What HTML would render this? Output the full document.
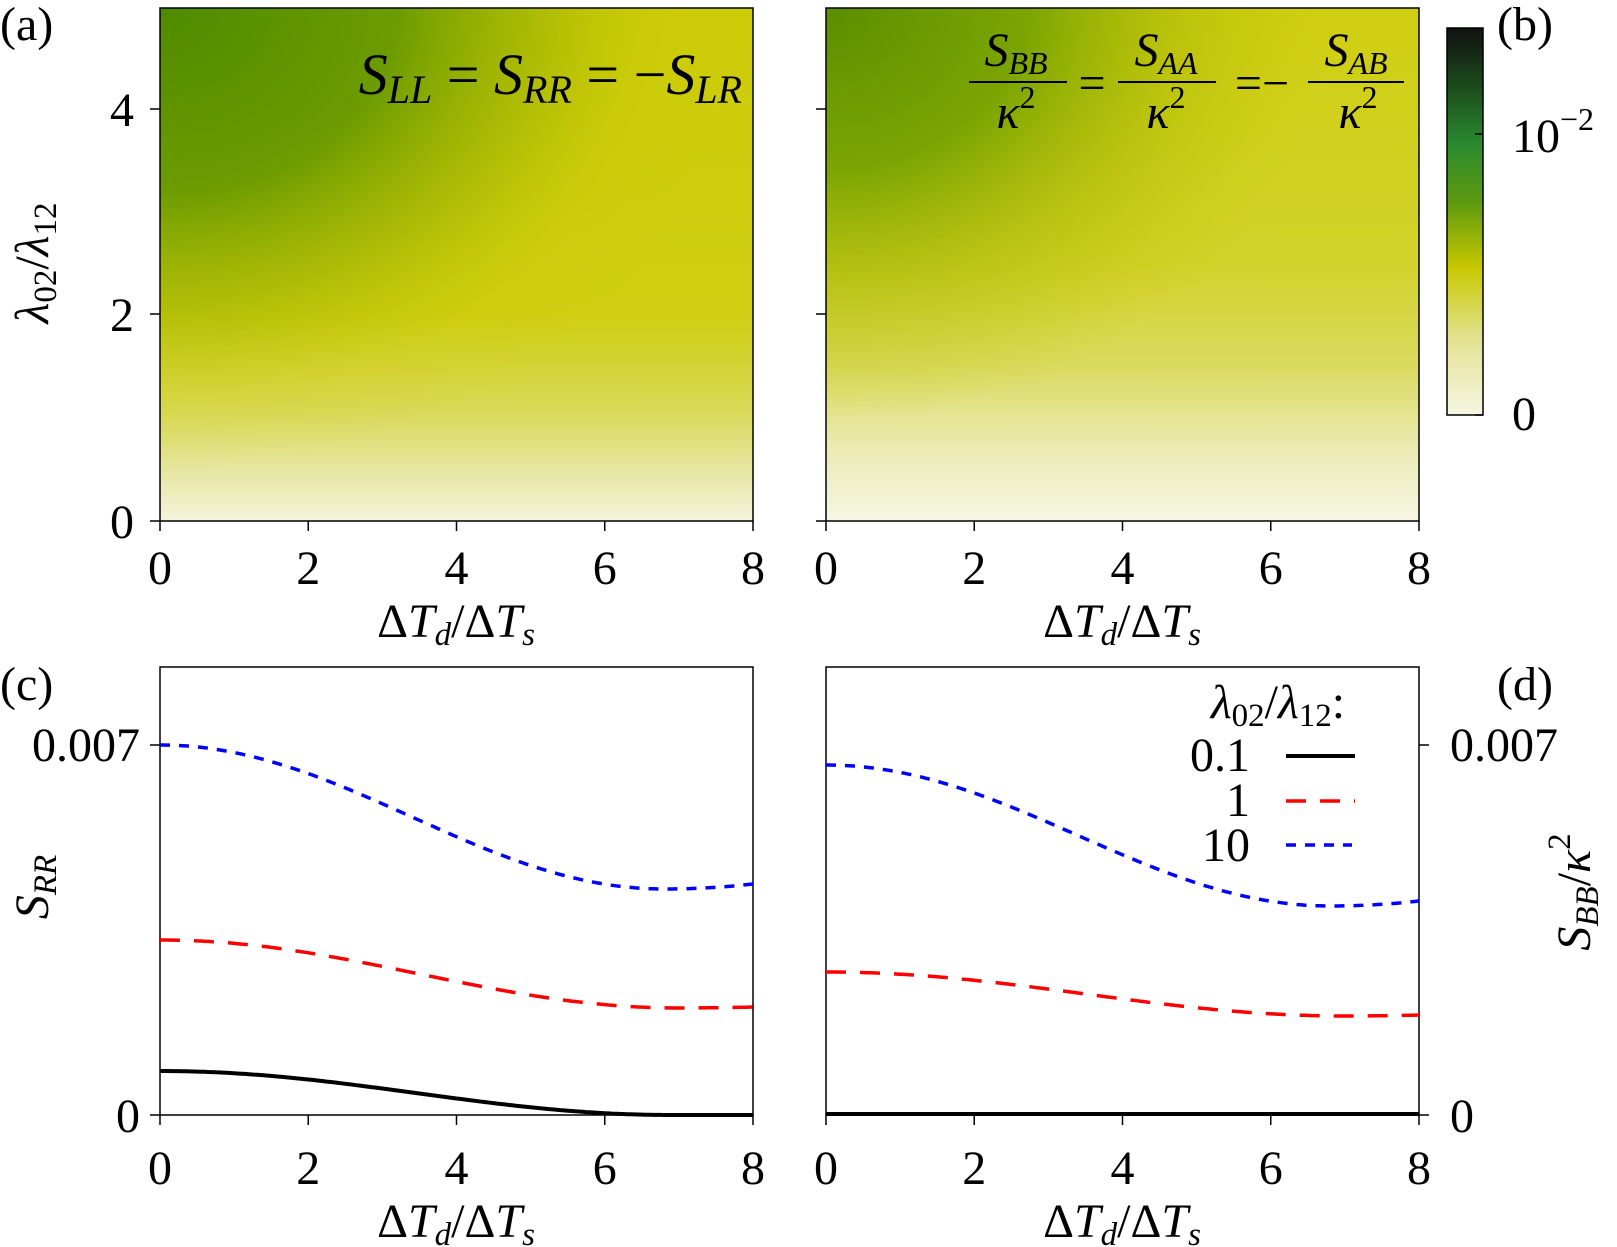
<!DOCTYPE html>
<html><head><meta charset="utf-8"><style>
html,body{margin:0;padding:0;background:#fff}
svg{display:block;font-family:"Liberation Serif","DejaVu Serif",serif}
svg text{font-family:"Liberation Serif","DejaVu Serif",serif;fill:#000}
.t{font-size:48px}
.i{font-style:italic}
</style></head><body>
<svg id="s" width="1617" height="1247" viewBox="0 0 1617 1247" xmlns="http://www.w3.org/2000/svg" font-family="Liberation Serif, DejaVu Serif, serif">
<defs>
<linearGradient id="va" x1="0" y1="0" x2="0" y2="1">
<stop offset="0" stop-color="#cdcc08"/><stop offset="0.6" stop-color="#cfce12"/>
<stop offset="0.78" stop-color="#d9d855"/><stop offset="0.9" stop-color="#e6e6a0"/><stop offset="1" stop-color="#f4f4dc"/>
</linearGradient>
<radialGradient id="ga" cx="0" cy="0" r="1" gradientUnits="objectBoundingBox" gradientTransform="scale(1.0,0.9)">
<stop offset="0" stop-color="#4e8a00" stop-opacity="1"/><stop offset="0.4" stop-color="#679900" stop-opacity="0.95"/>
<stop offset="0.65" stop-color="#9cb200" stop-opacity="0.6"/><stop offset="0.85" stop-color="#c8c800" stop-opacity="0.15"/><stop offset="1" stop-color="#c8c800" stop-opacity="0"/>
</radialGradient>
<linearGradient id="vb" x1="0" y1="0" x2="0" y2="1">
<stop offset="0" stop-color="#cfce12"/><stop offset="0.5" stop-color="#d3d22a"/>
<stop offset="0.7" stop-color="#dada60"/><stop offset="0.86" stop-color="#ebebb4"/><stop offset="1" stop-color="#f6f6e4"/>
</linearGradient>
<radialGradient id="gb" cx="0" cy="0" r="1" gradientUnits="objectBoundingBox" gradientTransform="scale(0.85,0.8)">
<stop offset="0" stop-color="#5a8e00" stop-opacity="1"/><stop offset="0.4" stop-color="#72a000" stop-opacity="0.9"/>
<stop offset="0.7" stop-color="#a8b800" stop-opacity="0.5"/><stop offset="1" stop-color="#c8c800" stop-opacity="0"/>
</radialGradient>
<linearGradient id="cb" x1="0" y1="1" x2="0" y2="0">
<stop offset="0" stop-color="#f6f6e4"/><stop offset="0.2" stop-color="#e2e290"/><stop offset="0.38" stop-color="#c8c800"/>
<stop offset="0.55" stop-color="#5e9a10"/><stop offset="0.7" stop-color="#2a8a30"/><stop offset="0.85" stop-color="#1c4a1c"/><stop offset="1" stop-color="#111"/>
</linearGradient>
</defs>
<rect x="160" y="8" width="593" height="513" fill="url(#va)"/>
<rect x="160" y="8" width="593" height="513" fill="url(#ga)"/>
<rect x="160" y="8" width="593" height="513" fill="none" stroke="#000" stroke-width="1.5"/>
<rect x="826" y="8" width="593" height="513" fill="url(#vb)"/>
<rect x="826" y="8" width="593" height="513" fill="url(#gb)"/>
<rect x="826" y="8" width="593" height="513" fill="none" stroke="#000" stroke-width="1.5"/>
<rect x="1447" y="28" width="36" height="387" fill="url(#cb)" stroke="#000" stroke-width="1.5"/>
<line x1="1483" y1="134" x2="1475" y2="134" stroke="#000" stroke-width="1.5"/>
<line x1="1483" y1="415" x2="1475" y2="415" stroke="#000" stroke-width="1.5"/>
<text class="t" x="1512" y="152">10<tspan font-size="32" dy="-22">−2</tspan></text>
<text class="t" x="1512" y="430">0</text>
<rect x="160" y="667" width="593" height="448" fill="none" stroke="#000" stroke-width="1.5"/>
<rect x="826" y="667" width="593" height="448" fill="none" stroke="#000" stroke-width="1.5"/>
<g id="ticks"></g>
<g id="curves" fill="none"></g>
<text class="t" x="0" y="40">(a)</text>
<text class="t" x="1497" y="40">(b)</text>
<text class="t" x="0" y="700">(c)</text>
<text class="t" x="1497" y="700">(d)</text>
<text class="t" x="1450" y="761">0.007</text>
<text class="t" x="1450" y="1132">0</text>
<text class="t" x="140" y="761" text-anchor="end">0.007</text>
<text class="t" x="140" y="1132" text-anchor="end">0</text>
<text class="t" x="134" y="126" text-anchor="end">4</text>
<text class="t" x="134" y="331" text-anchor="end">2</text>
<text class="t" x="134" y="538" text-anchor="end">0</text>
<text class="t" transform="translate(48,263) rotate(-90)" text-anchor="middle"><tspan class="i">λ</tspan><tspan font-size="33" dy="8">02</tspan><tspan dy="-8">/</tspan><tspan class="i">λ</tspan><tspan font-size="33" dy="8">12</tspan></text>
<text class="t" transform="translate(48,887) rotate(-90)" text-anchor="middle"><tspan class="i">S</tspan><tspan class="i" font-size="33" dy="8">RR</tspan></text>
<text class="t" transform="translate(1590,892) rotate(-90)" text-anchor="middle"><tspan class="i">S</tspan><tspan class="i" font-size="33" dy="8">BB</tspan><tspan dy="-8">/</tspan><tspan class="i">κ</tspan><tspan font-size="33" dy="-20">2</tspan></text>
<text x="742" y="94" font-size="58" text-anchor="end"><tspan class="i">S</tspan><tspan class="i" font-size="40" dy="9">LL</tspan><tspan dy="-9"> = </tspan><tspan class="i">S</tspan><tspan class="i" font-size="40" dy="9">RR</tspan><tspan dy="-9"> = −</tspan><tspan class="i">S</tspan><tspan class="i" font-size="40" dy="9">LR</tspan></text>
<g font-size="48">
<text x="1016" y="66" text-anchor="middle" class="i">S<tspan font-size="32" dy="8">BB</tspan></text>
<line x1="969" y1="82" x2="1067" y2="82" stroke="#000" stroke-width="2"/>
<text x="1016" y="128" text-anchor="middle" class="i">κ<tspan font-size="32" dy="-20" font-style="normal">2</tspan></text>
<text x="1092" y="99" text-anchor="middle">=</text>
<text x="1166" y="66" text-anchor="middle" class="i">S<tspan font-size="32" dy="8">AA</tspan></text>
<line x1="1118" y1="82" x2="1216" y2="82" stroke="#000" stroke-width="2"/>
<text x="1166" y="128" text-anchor="middle" class="i">κ<tspan font-size="32" dy="-20" font-style="normal">2</tspan></text>
<text x="1262" y="99" text-anchor="middle">=−</text>
<text x="1356" y="66" text-anchor="middle" class="i">S<tspan font-size="32" dy="8">AB</tspan></text>
<line x1="1308" y1="82" x2="1404" y2="82" stroke="#000" stroke-width="2"/>
<text x="1358" y="128" text-anchor="middle" class="i">κ<tspan font-size="32" dy="-20" font-style="normal">2</tspan></text>
</g>
<text class="t" x="1278" y="718" text-anchor="middle"><tspan class="i">λ</tspan><tspan font-size="33" dy="8">02</tspan><tspan dy="-8">/</tspan><tspan class="i">λ</tspan><tspan font-size="33" dy="8">12</tspan><tspan dy="-8">:</tspan></text>
<text class="t" x="1250" y="771" text-anchor="end">0.1</text>
<text class="t" x="1250" y="816" text-anchor="end">1</text>
<text class="t" x="1250" y="861" text-anchor="end">10</text>
<line x1="1286" y1="756" x2="1355" y2="756" stroke="#000" stroke-width="4"/>
<line x1="1286" y1="801" x2="1355" y2="801" stroke="#f00" stroke-width="3.5" stroke-dasharray="20,14"/>
<line x1="1286" y1="845" x2="1352" y2="845" stroke="#00f" stroke-width="3.5" stroke-dasharray="10,9"/>
</svg>
<script>
var NS="http://www.w3.org/2000/svg";
function el(p,n,a,txt){var e=document.createElementNS(NS,n);for(var k in a)e.setAttribute(k,a[k]);if(txt!=null)e.textContent=txt;p.appendChild(e);return e;}
var T=document.getElementById('ticks'),C=document.getElementById('curves');
[[160,521,567],[826,521,567],[160,1115,1167],[826,1115,1167]].forEach(function(p){
 for(var i=0;i<=4;i++){var x=p[0]+i*593/4;
  el(T,'line',{x1:x,y1:p[1],x2:x,y2:p[1]+10,stroke:'#000','stroke-width':1.5});
  el(T,'text',{x:x,y:p[2]+17,'text-anchor':'middle','class':'t'},String(i*2));}
 var t=el(T,'text',{x:p[0]+296,y:p[2]+70,'text-anchor':'middle','class':'t'});
 t.innerHTML='Δ<tspan class="i">T</tspan><tspan class="i" font-size="33" dy="8">d</tspan><tspan dy="-8">/Δ</tspan><tspan class="i">T</tspan><tspan class="i" font-size="33" dy="8">s</tspan>';
});
[[160,109],[160,314],[160,521],[826,109],[826,314],[826,521],[160,745],[160,1115]].forEach(function(p){el(T,'line',{x1:p[0]-10,y1:p[1],x2:p[0],y2:p[1],stroke:'#000','stroke-width':1.5});});
[[1419,745],[1419,1115]].forEach(function(p){el(T,'line',{x1:p[0],y1:p[1],x2:p[0]+10,y2:p[1],stroke:'#000','stroke-width':1.5});});
function curve(x0,y0,ymin,yend,xm){var d='';for(var i=0;i<=160;i++){var v=8*i/160,y;
 if(v<=xm)y=y0+(ymin-y0)*(1-Math.cos(Math.PI*v/xm))/2;else{var u=(v-xm)/(8-xm);y=ymin+(yend-ymin)*u*u;}
 d+=(i?'L':'M')+(x0+v*593/8).toFixed(1)+','+y.toFixed(1);}return d;}
el(C,'path',{d:curve(160,745,889,884,6.8),stroke:'#00f','stroke-width':3.5,'stroke-dasharray':'10,9'});
el(C,'path',{d:curve(160,940,1008,1007,7),stroke:'#f00','stroke-width':3.5,'stroke-dasharray':'20,14'});
el(C,'path',{d:curve(160,1071,1115,1115,6.9),stroke:'#000','stroke-width':4});
el(C,'path',{d:curve(826,765,906,901,6.8),stroke:'#00f','stroke-width':3.5,'stroke-dasharray':'10,9'});
el(C,'path',{d:curve(826,972,1016,1015,7),stroke:'#f00','stroke-width':3.5,'stroke-dasharray':'20,14'});
el(C,'path',{d:'M826,1114L1419,1114',stroke:'#000','stroke-width':4});
</script>
</body></html>
